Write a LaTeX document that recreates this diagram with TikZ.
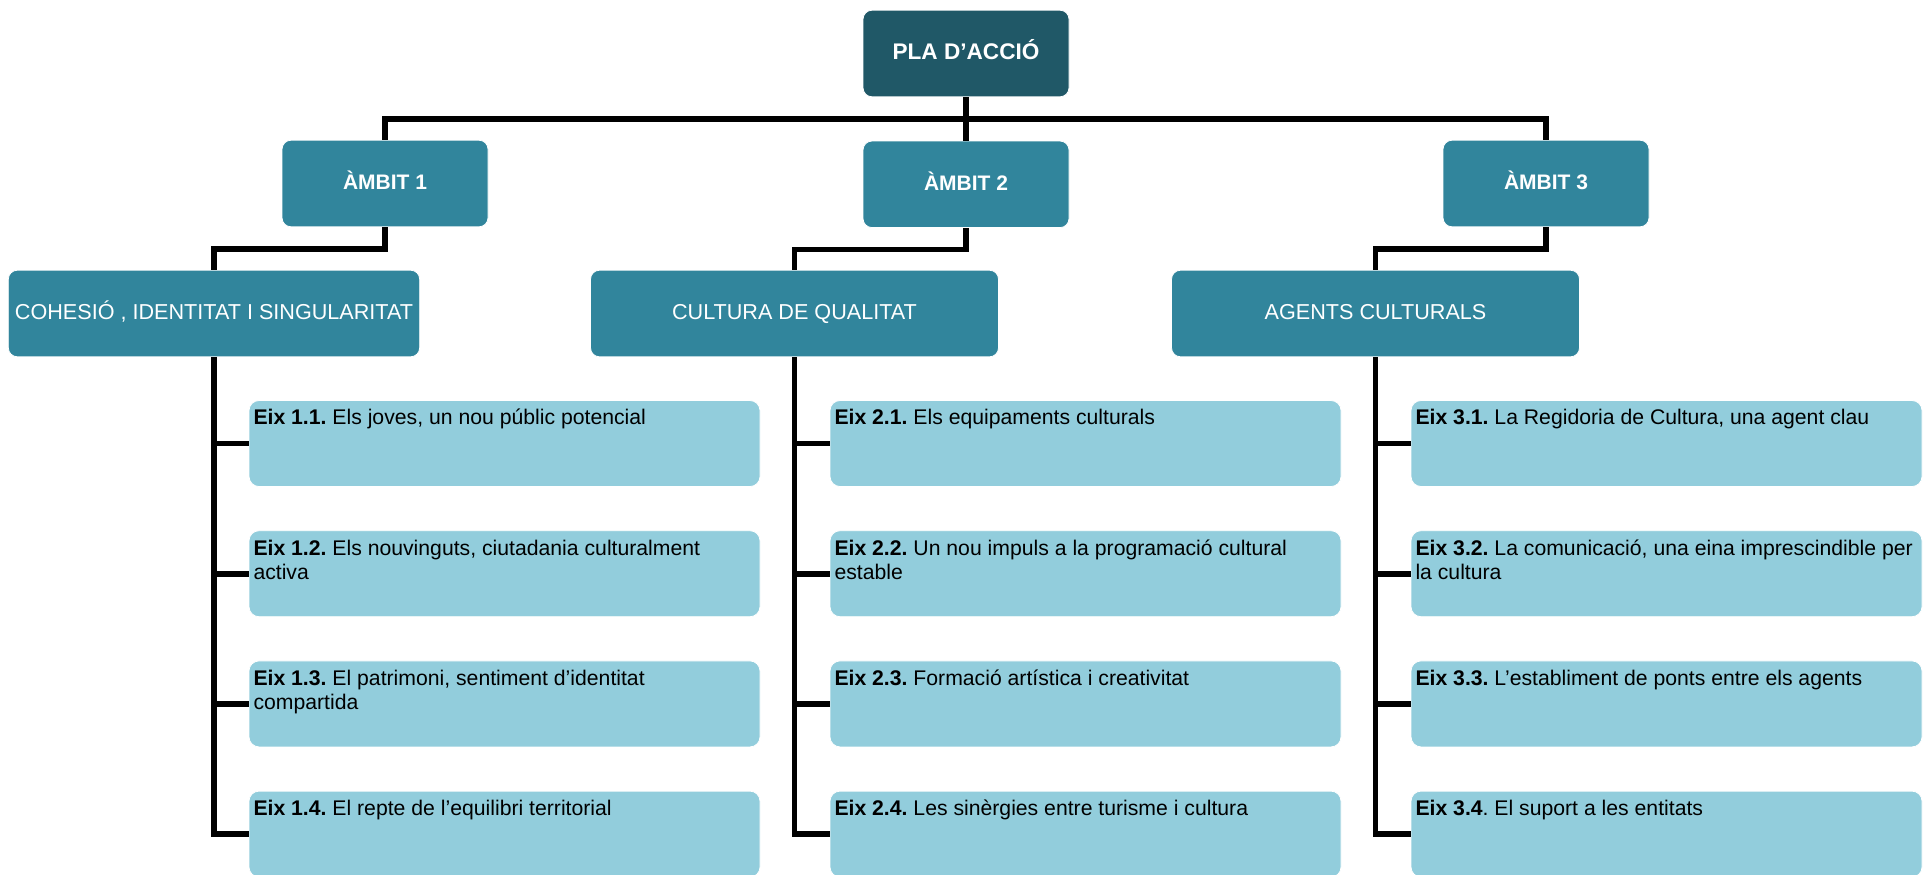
\documentclass[tikz,border=0pt]{standalone}
\usepackage{fontspec}
\setmainfont{Liberation Sans}
\usepackage{xcolor}
\usepackage{tikz}
\usetikzlibrary{positioning}

\definecolor{pladark}{HTML}{205867}
\definecolor{ambitblue}{HTML}{31859C}
\definecolor{eixblue}{HTML}{92CDDC}

\newcommand{\eixtxt}[1]{\parbox[c][43pt][t]{251pt}{\frenchspacing\rule{0pt}{12.15pt}#1}}

\begin{document}
\begin{tikzpicture}[x=0.5pt, y=-0.5pt, node distance = 21.7pt, % Adjusted node distance
			plabox/.style={
					rectangle,
					draw=white,
					fill=pladark,
					text=white,
					minimum width=103pt,
					minimum height=43.3pt,
					rounded corners=4.5pt,
					text height=6.2pt,
					text depth=0pt,
					font=\fontsize{11.3}{13}\selectfont\bfseries
				},
			ambit/.style={
					plabox,
					fill=ambitblue,
					text height=5.9pt,
					font=\fontsize{10.5}{12.5}\selectfont\bfseries
				},
			axis/.style={
					plabox,
					fill=ambitblue,
					minimum width=204pt,
					text height=6.2pt,
					font=\fontsize{10.8}{12.5}\selectfont
				},
			eix/.style={
					rectangle,
					draw=white,
					fill=eixblue,
					text=black,
					minimum width=255.5pt,
					minimum height=43pt,
					inner xsep=2.25pt,
					inner ysep=0pt,
					rounded corners=5pt,
					font=\fontsize{10.6}{12.25}\selectfont
				},
			line/.style={draw, line width=2.8pt}
		]
		\useasboundingbox (0,0) rectangle (1930,874);
		% Place nodes
		\node [plabox] (pla) at (966,53.5) {PLA D’ACCIÓ};
		\node [ambit, below=of pla] (amb2) {ÀMBIT 2};
		\node [ambit] (amb1) at (385,183.5) {ÀMBIT 1};
		\node [ambit] (amb3) at (1546,183.5) {ÀMBIT 3};
		\node [axis] (cohesio) at (214,313.5) {COHESIÓ , IDENTITAT I SINGULARITAT};
		\node [axis] (qualitat) at (794.5,313.5) {CULTURA DE QUALITAT};
		\node [axis] (agents) at (1375.5,313.5) {AGENTS CULTURALS};
		\node [eix] (e11) at (504.5,443.5) {\eixtxt{\textbf{Eix 1.1.} Els joves, un nou públic potencial}};
		\node [eix, below=of e11] (e12) {\eixtxt{\mbox{\textbf{Eix 1.2.} Els nouvinguts, ciutadania culturalment}\newline activa}};
		\node [eix, below=of e12] (e13) {\eixtxt{\mbox{\textbf{Eix 1.3.} El patrimoni, sentiment d’identitat}\newline compartida}};
		\node [eix, below=of e13] (e14) {\eixtxt{\textbf{Eix 1.4.} El repte de l’equilibri territorial}};
		\node [eix] (e21) at (1085.5,443.5) {\eixtxt{\textbf{Eix 2.1.} Els equipaments culturals}};
		\node [eix, below=of e21] (e22) {\eixtxt{\mbox{\textbf{Eix 2.2.} Un nou impuls a la programació cultural}\newline estable}};
		\node [eix, below=of e22] (e23) {\eixtxt{\textbf{Eix 2.3.} Formació artística i creativitat}};
		\node [eix, below=of e23] (e24) {\eixtxt{\textbf{Eix 2.4.} Les sinèrgies entre turisme i cultura}};
		\node [eix] (e31) at (1666.5,443.5) {\eixtxt{\textbf{Eix 3.1.} La Regidoria de Cultura, una agent clau}};
		\node [eix, below=of e31] (e32) {\eixtxt{\mbox{\textbf{Eix 3.2.} La comunicació, una eina imprescindible per}\newline la cultura}};
		\node [eix, below=of e32] (e33) {\eixtxt{\textbf{Eix 3.3.} L’establiment de ponts entre els agents}};
		\node [eix, below=of e33] (e34) {\eixtxt{\textbf{Eix 3.4}. El suport a les entitats}};
		% Draw edges
		\path [line] (pla.south) -- ++(0,21.5) -| (amb1.north);
		\path [line] (pla.south) -- ++(0,21.5) -| (amb3.north);
		\path [line] (pla.south) -- (amb2.north);
		\path [line] (amb1.south) -- ++(0,21.5) -| (cohesio.north);
		\path [line] (amb2.south) -- ++(0,21.5) -| (qualitat.north);
		\path [line] (amb3.south) -- ++(0,21.5) -| (agents.north);
		\path [line] (cohesio.south) |- (e11.west);
		\path [line] (cohesio.south) |- (e12.west);
		\path [line] (cohesio.south) |- (e13.west);
		\path [line] (cohesio.south) |- (e14.west);
		\path [line] (qualitat.south) |- (e21.west);
		\path [line] (qualitat.south) |- (e22.west);
		\path [line] (qualitat.south) |- (e23.west);
		\path [line] (qualitat.south) |- (e24.west);
		\path [line] (agents.south) |- (e31.west);
		\path [line] (agents.south) |- (e32.west);
		\path [line] (agents.south) |- (e33.west);
		\path [line] (agents.south) |- (e34.west);
	\end{tikzpicture}
\end{document}
